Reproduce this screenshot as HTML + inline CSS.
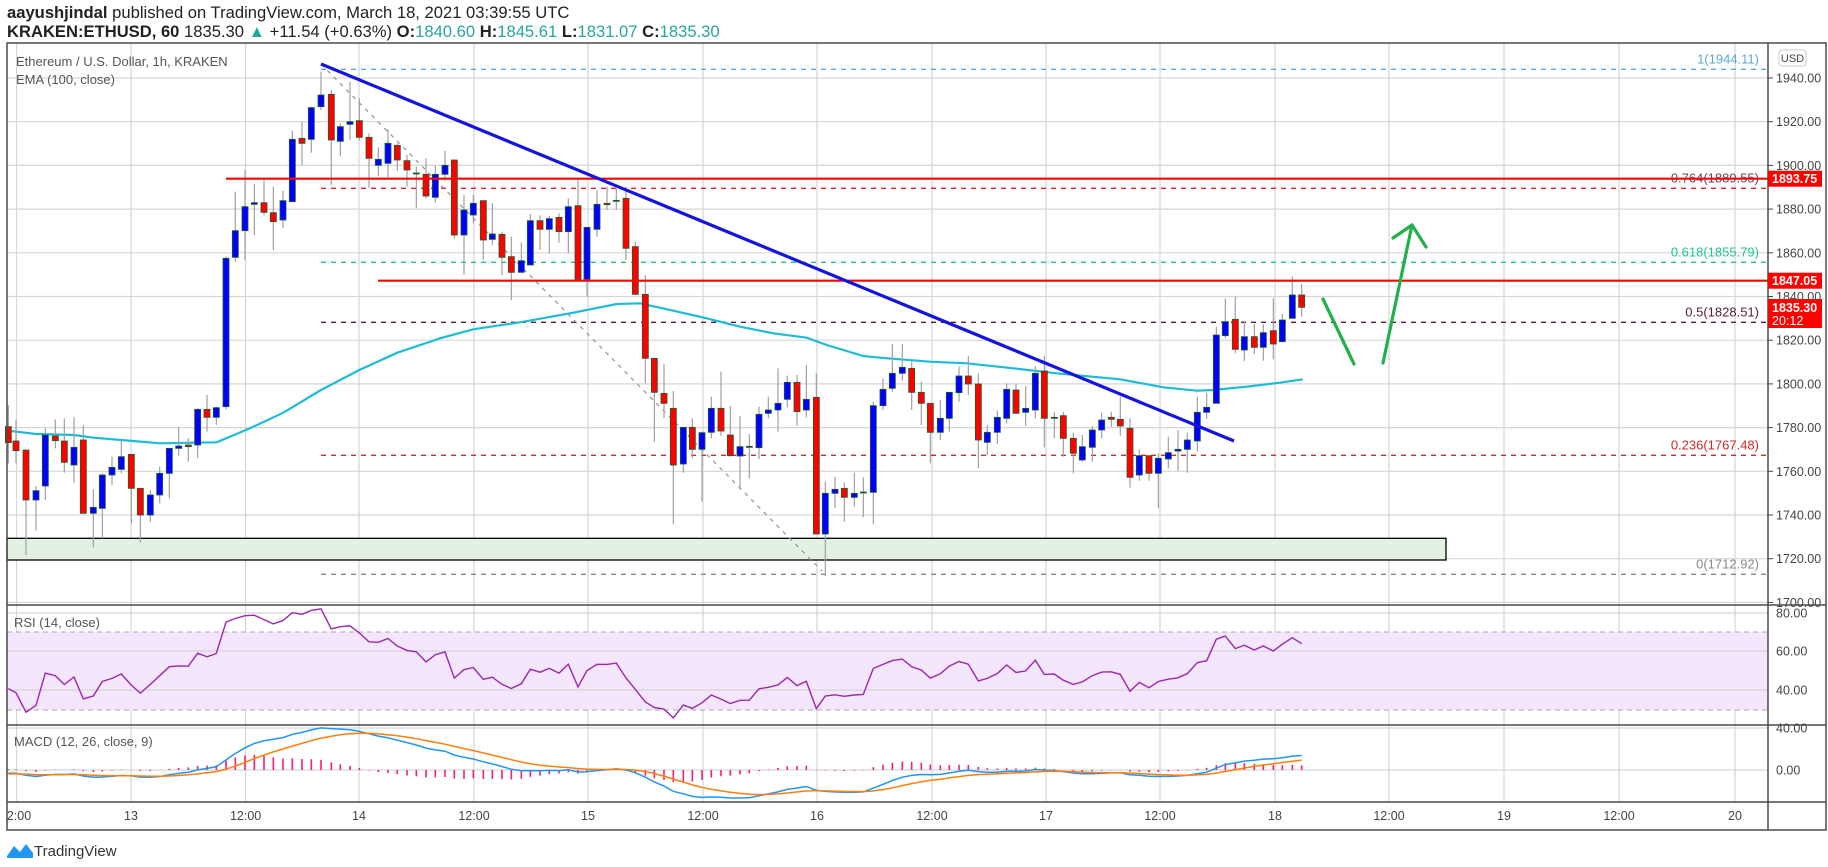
<!DOCTYPE html>
<html><head><meta charset="utf-8">
<style>
html,body{margin:0;padding:0;background:#fff;width:1828px;height:867px;overflow:hidden}
svg{display:block;font-family:"Liberation Sans","DejaVu Sans",sans-serif}
</style></head>
<body>
<svg id="s" width="1828" height="867" viewBox="0 0 1828 867" xmlns="http://www.w3.org/2000/svg">
<rect width="1828" height="867" fill="#fff"/>
<g id="grid"></g>
<rect x="7" y="538.3" width="1439" height="21.7" fill="#e3f1e3" stroke="#000" stroke-width="1.3"/>
<g id="fib"></g>
<g id="main"></g>
<g id="lower"></g>
<g fill="none" stroke="#4a4a4a" stroke-width="1.5">
<rect x="7" y="43" width="1819" height="787"/>
<line x1="1768" y1="43" x2="1768" y2="830"/>
<line x1="7" y1="605" x2="1826" y2="605"/>
<line x1="7" y1="725" x2="1826" y2="725"/>
<line x1="7" y1="802" x2="1826" y2="802"/>
</g>
<g id="axis" font-size="12.5" fill="#444"></g>
<text x="7" y="18" font-size="16.6" fill="#222"><tspan font-weight="bold">aayushjindal</tspan> published on TradingView.com, March 18, 2021 03:39:55 UTC</text>
<text x="7" y="37" font-size="16.6" fill="#222"><tspan font-weight="bold">KRAKEN:ETHUSD, 60</tspan> 1835.30 <tspan fill="#26a69a">▲</tspan> +11.54 (+0.63%) <tspan font-weight="bold">O:</tspan><tspan fill="#26a69a">1840.60</tspan> <tspan font-weight="bold">H:</tspan><tspan fill="#26a69a">1845.61</tspan> <tspan font-weight="bold">L:</tspan><tspan fill="#26a69a">1831.07</tspan> <tspan font-weight="bold">C:</tspan><tspan fill="#26a69a">1835.30</tspan></text>
<text x="16" y="66" font-size="13" fill="#555">Ethereum / U.S. Dollar, 1h, KRAKEN</text>
<text x="16" y="84" font-size="13" fill="#555">EMA (100, close)</text>
<text x="14" y="627" font-size="13" fill="#555">RSI (14, close)</text>
<text x="14" y="746" font-size="13" fill="#555">MACD (12, 26, close, 9)</text>
<path d="M7 856 L14 846 L20 852 L26 844 L33 853 L33 858 L7 858Z" fill="#2196f3"/>
<text x="34" y="856" font-size="15" fill="#333">TradingView</text>
<rect x="1779" y="50" width="27" height="16" rx="3" fill="#fff" stroke="#ccc"/>
<text x="1792.5" y="62" font-size="11" fill="#444" text-anchor="middle">USD</text>
</svg>
<script>
var NS="http://www.w3.org/2000/svg";
function el(p,t,a,txt){var e=document.createElementNS(NS,t);for(var k in a)e.setAttribute(k,a[k]);if(txt!==undefined)e.textContent=txt;document.getElementById(p).appendChild(e);return e;}
function py(p){return 78+(1940-p)*2.185;}
var vx=[16.5,131,245.6,359,474,588,703,817,932,1046,1160,1275,1389,1504,1619,1735];
var vl=["2:00","13","12:00","14","12:00","15","12:00","16","12:00","17","12:00","18","12:00","19","12:00","20"];
vx.forEach(function(x,i){el("grid","line",{x1:x,y1:43,x2:x,y2:802,stroke:"#d6d6d6","stroke-width":1.2});
 el("axis","text",{x:(i==0?19:x),y:820,"text-anchor":"middle"},vl[i]);});
for(var p=1700;p<=1940;p+=20){var y=py(p);el("grid","line",{x1:7,y1:y,x2:1768,y2:y,stroke:"#d6d6d6","stroke-width":1.2});
 el("axis","line",{x1:1768,y1:y,x2:1773,y2:y,stroke:"#444"});
 el("axis","text",{x:1776,y:y+4.5},p.toFixed(2));}
el("grid","rect",{x:7,y:632,width:1761,height:78,fill:"#f3e6fd"});
[613,651,690].forEach(function(y,i){el("grid","line",{x1:7,y1:y,x2:1768,y2:y,stroke:"#d6d6d6","stroke-width":1.2});el("axis","text",{x:1776,y:y+4.5},["80.00","60.00","40.00"][i]);});
[632,710].forEach(function(y){el("grid","line",{x1:7,y1:y,x2:1768,y2:y,stroke:"#aaa","stroke-dasharray":"5,4"});});
[728,770].forEach(function(y,i){el("grid","line",{x1:7,y1:y,x2:1768,y2:y,stroke:"#d6d6d6","stroke-width":1.2});el("axis","text",{x:1776,y:y+4.5},["40.00","0.00"][i]);});
var fibs=[[69.3,"#5ea6d6","1(1944.11)"],[188.3,"#ee2222","0.764(1889.55)"],[262.3,"#22c58b","0.618(1855.79)"],[322.3,"#5c1a38","0.5(1828.51)"],[455.3,"#cc2b2b","0.236(1767.48)"],[574.3,"#888","0(1712.92)"]];
fibs.forEach(function(f){el("fib","line",{x1:321,y1:f[0],x2:1768,y2:f[0],stroke:f[1],"stroke-width":1.3,"stroke-dasharray":"5,5"});
 el("fib","text",{x:1759,y:f[0]-6,"text-anchor":"end","font-size":13,fill:(f[2][2]=="7"?"#6a4060":f[1])},f[2]);});
el("fib","line",{x1:321,y1:64,x2:822,y2:571,stroke:"#999","stroke-width":1.3,"stroke-dasharray":"4,5"});
var z5=[[25,'r',1100,1148,1035,1210],[48,'r',1143,1172,1080,1210],[78,'r',1170,1320,1170,1485],[108,'b',1292,1320,1278,1412],[136,'b',1125,1278,1105,1320],[166,'r',1128,1142,1078,1165],[193,'r',1143,1207,1075,1238],[222,'b',1162,1215,1072,1268],[250,'r',1140,1360,1095,1360],[280,'b',1342,1360,1288,1462],[307,'b',1245,1345,1240,1435],[336,'b',1222,1245,1190,1275],[364,'b',1190,1228,1140,1240],[394,'r',1183,1285,1183,1390],[421,'r',1285,1365,1285,1448],[451,'b',1305,1365,1290,1385],[479,'b',1240,1305,1220,1330],[508,'b',1165,1240,1165,1315],[536,'b',1158,1165,1100,1187],[565,'r',1155,1160,1135,1205],[593,'b',1048,1155,1045,1195],[621,'r',1048,1072,1005,1115],[649,'b',1043,1072,1040,1095],[678,'b',595,1040,590,1048],[706,'b',512,592,395,605],[735,'b',440,512,330,600],[763,'b',428,433,372,525],[792,'r',428,457,360,465],[820,'r',458,485,380,570],[849,'b',422,480,392,505],[877,'b',238,425,212,425],[906,'r',235,250,185,315],[934,'b',143,238,140,278],[963,'b',105,140,35,150],[994,'r',103,240,90,375],[1021,'b',200,244,190,288],[1050,'b',185,193,65,240],[1078,'r',182,232,115,240],[1107,'r',232,295,220,383],[1135,'b',298,316,262,348],[1164,'b',250,310,208,352],[1192,'r',256,300,250,333],[1221,'r',302,330,285,380],[1249,'d',339,341,320,445],[1278,'r',343,408,295,415],[1306,'b',343,412,318,428],[1335,'b',316,343,272,362]];
var z6=[[43,'r',300,525,300,535],[72,'b',450,525,405,645],[100,'b',430,465,405,490],[130,'r',422,540,422,600],[157,'b',522,538,430,555],[186,'r',523,592,515,645],[214,'r',590,637,530,720],[244,'b',602,637,547,640],[271,'b',482,615,462,615],[300,'r',482,508,466,570],[328,'b',476,508,468,580],[357,'r',472,515,460,548],[385,'b',440,515,415,580],[414,'r',437,658,360,658],[441,'b',502,658,502,710],[471,'b',433,508,390,530],[501,'r',430,434,380,450],[529,'d',421,423,385,450],[558,'r',415,565,380,600],[586,'r',560,703,545,703],[616,'r',703,895,645,970],[643,'r',895,997,895,1145],[672,'r',1000,1030,912,1075],[700,'r',1045,1215,993,1393],[730,'b',1102,1212,1102,1238],[757,'r',1102,1168,1075,1195],[786,'b',1118,1168,1115,1325],[814,'b',1045,1117,1010,1135],[843,'r',1045,1113,935,1128],[871,'r',1125,1187,1038,1190],[900,'b',1160,1188,1068,1288],[928,'d',1159,1161,1122,1255],[957,'b',1063,1163,1040,1197],[985,'b',1050,1060,1010,1075],[1014,'b',1030,1050,925,1115],[1042,'b',967,1018,947,1042],[1071,'r',967,1055,945,1097],[1099,'b',1018,1050,915,1072],[1129,'r',1012,1422,940,1422],[1156,'b',1300,1422,1265,1548],[1185,'b',1288,1300,1250,1345],[1213,'r',1285,1312,1268,1385],[1243,'b',1300,1312,1238,1340],[1270,'d',1296,1298,1252,1372],[1300,'b',1037,1297,1025,1393],[1329,'b',988,1037,955,1050]];
var z7=[[37,'b',940,985,852,995],[67,'b',922,940,852,962],[95,'r',925,997,905,1050],[124,'r',997,1030,965,1095],[151,'r',1030,1117,1030,1210],[181,'b',1075,1117,1020,1140],[208,'b',997,1075,997,1115],[237,'b',948,998,920,1025],[265,'r',948,972,888,1005],[295,'r',972,1140,940,1225],[322,'b',1117,1147,1095,1185],[352,'b',1072,1117,1052,1152],[380,'b',988,1075,970,1090],[408,'r',990,1060,970,1060],[437,'b',1045,1057,978,1097],[466,'b',940,1050,918,1075],[493,'r',933,1075,888,1162],[523,'d',1072,1074,1055,1135],[550,'r',1067,1135,1055,1190],[580,'r',1135,1180,1118,1240],[607,'b',1160,1200,1125,1205],[637,'b',1110,1162,1098,1205],[665,'b',1080,1110,1058,1135],[694,'r',1072,1078,1055,1100],[721,'r',1078,1098,1010,1127],[750,'r',1105,1252,1075,1283],[778,'b',1187,1245,1168,1262],[807,'r',1187,1240,1187,1262],[835,'b',1195,1240,1180,1345],[865,'b',1178,1197,1130,1225],[894,'b',1168,1173,1110,1232],[922,'b',1140,1168,1118,1238],[952,'b',1057,1143,1010,1175],[980,'b',1042,1057,998,1077],[1009,'b',825,1030,800,1030],[1036,'b',785,827,715,835],[1066,'r',778,868,710,880],[1093,'b',830,870,783,903],[1123,'r',830,862,793,882],[1150,'b',818,862,793,902],[1180,'r',812,852,715,898],[1207,'b',780,845,762,845],[1237,'b',705,775,650,775],[1265,'r',705,742,672,770]];
var C=[];
function add(arr,off){arr.forEach(function(c){C.push({x:off+c[0]/3,col:c[1],t:60+c[2]/3,b:60+c[3]/3,h:60+c[4]/3,l:60+c[5]/3});});}
add(z5,0);add(z6,440);add(z7,880);
var ema=[[0,25,1112],[0,108,1122],[0,222,1125],[0,280,1133],[0,364,1140],[0,480,1150],[0,650,1147],[0,750,1105],[0,850,1058],[0,963,990],[0,1078,930],[0,1192,878],[0,1306,840],[440,0,835],[440,100,808],[440,240,787],[440,400,758],[440,530,732],[440,600,730],[440,700,752],[440,800,775],[440,900,800],[440,1000,820],[440,1100,833],[440,1160,855],[440,1270,888],[880,0,893],[880,150,905],[880,260,910],[880,400,925],[880,530,940],[880,720,958],[880,850,982],[880,950,992],[880,1000,990],[880,1100,980],[880,1200,968],[880,1268,958]];
el("main","polyline",{points:ema.map(function(e){return (e[0]+e[1]/3).toFixed(1)+","+(60+e[2]/3).toFixed(1);}).join(" "),fill:"none",stroke:"#1cbcd8","stroke-width":2.2});
C.forEach(function(c){
 el("main","line",{x1:c.x,y1:c.h,x2:c.x,y2:c.l,stroke:"#a0a0a0","stroke-width":1.2});
 var f=c.col=='b'?"#0000ff":(c.col=='r'?"#ff0000":"#1c5a2a");
 el("main","rect",{x:c.x-3,y:c.t,width:6,height:Math.max(1,c.b-c.t),fill:f,stroke:"#1e5a2e","stroke-width":0.8});
});
el("main","line",{x1:226,y1:178.7,x2:1768,y2:178.7,stroke:"#ff0000","stroke-width":2.2});
el("main","line",{x1:378,y1:280.7,x2:1768,y2:280.7,stroke:"#ff0000","stroke-width":2.2});
el("main","line",{x1:321,y1:64,x2:1234,y2:441,stroke:"#1414e0","stroke-width":3.2});
el("main","polyline",{points:"1323,299 1354,364",fill:"none",stroke:"#22b04c","stroke-width":3.2,"stroke-linecap":"round"});
el("main","polyline",{points:"1383,363 1412,225",fill:"none",stroke:"#22b04c","stroke-width":3.2,"stroke-linecap":"round"});
el("main","polyline",{points:"1393,238 1412,225 1426,247",fill:"none",stroke:"#22b04c","stroke-width":3.2,"stroke-linecap":"round","stroke-linejoin":"round"});
function tag(y,txt,h){el("axis","rect",{x:1768,y:y-8,width:54,height:h,fill:"#ff0000"});el("axis","text",{x:1772,y:y+4.5,fill:"#fff","font-weight":"bold","font-size":12.5},txt);}
tag(178.7,"1893.75",16);tag(280.7,"1847.05",16);
el("axis","rect",{x:1768,y:299,width:54,height:29,fill:"#ff0000"});
el("axis","text",{x:1772,y:312,fill:"#fff","font-weight":"bold","font-size":12.5},"1835.30");
el("axis","text",{x:1772,y:325,fill:"#fff","font-size":12.5},"20:12");
var cl=C.map(function(c){var y=(c.col=='r')?c.b:c.t;return 1940-(y-78)/2.185;});
var ag=2.2,al=3.2,rs=[];
for(var i=0;i<cl.length;i++){var d=i?cl[i]-cl[i-1]:0;ag=(ag*13+Math.max(d,0))/14;al=(al*13+Math.max(-d,0))/14;rs.push(100-100/(1+ag/al));}
el("lower","polyline",{points:C.map(function(c,i){return c.x.toFixed(1)+","+(690-(rs[i]-40)*1.935).toFixed(1);}).join(" "),fill:"none",stroke:"#9b27af","stroke-width":1.4});
var e12=cl[0]+2,e26=cl[0]+5,sg=-4,m=[],s=[];
for(var i=0;i<cl.length;i++){e12+=(cl[i]-e12)*2/13;e26+=(cl[i]-e26)*2/27;var mv=e12-e26;sg+=(mv-sg)*0.2;m.push(mv);s.push(sg);}
C.forEach(function(c,i){var h=m[i]-s[i];el("lower","line",{x1:c.x,y1:770,x2:c.x,y2:770-h*1.05,stroke:"#ff1a75","stroke-width":1.6});});
el("lower","polyline",{points:C.map(function(c,i){return c.x.toFixed(1)+","+(770-m[i]*1.05).toFixed(1);}).join(" "),fill:"none",stroke:"#2196f3","stroke-width":1.5});
el("lower","polyline",{points:C.map(function(c,i){return c.x.toFixed(1)+","+(770-s[i]*1.05).toFixed(1);}).join(" "),fill:"none",stroke:"#ff7f0e","stroke-width":1.5});
</script>
</body></html>
